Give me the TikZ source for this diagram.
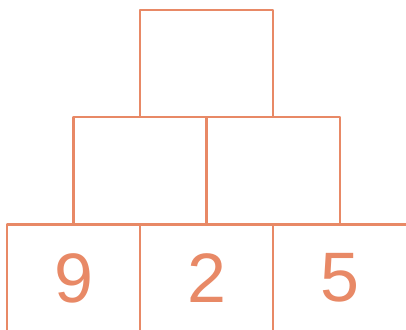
\documentclass[tikz,border=0pt]{standalone}
\usepackage{fontspec}
\usepackage{tikz}
\usetikzlibrary{positioning}
\newfontfamily\pyrfont{Liberation Sans}
\definecolor{pyrorange}{RGB}{232,137,102}
\tikzset{
  every picture/.append style={line cap=round,line join=round},
  pyr box/.style={draw=pyrorange,line width=2.8pt,minimum width=133pt,minimum height=107pt,
    inner sep=0pt,outer sep=0pt,text=pyrorange,font=\pyrfont\fontsize{70}{70}\selectfont}
}

\begin{document}
\begin{tikzpicture}[x=1pt,y=-1pt]
\useasboundingbox (0,0) rectangle (406,329);
% bottom row
\foreach \x/\num/\nm in {73.5/9/a, 206.5/2/b}{
  \node[pyr box] (bot\nm) at (\x,278) {\num};
}
\node[pyr box,minimum width=137pt] (botc) at (341.5,278) {};
\node[text=pyrorange,font=\pyrfont\fontsize{70}{70}\selectfont,inner sep=0pt] (numc) at (339.5,278) {5};
% middle row
\node[pyr box] (midl) at (140,170.5) {};
\node[pyr box] (midr) at (273.5,170.5) {};
% top
\node[pyr box] (top) at (206.5,63.5) {};
\end{tikzpicture}
\end{document}
